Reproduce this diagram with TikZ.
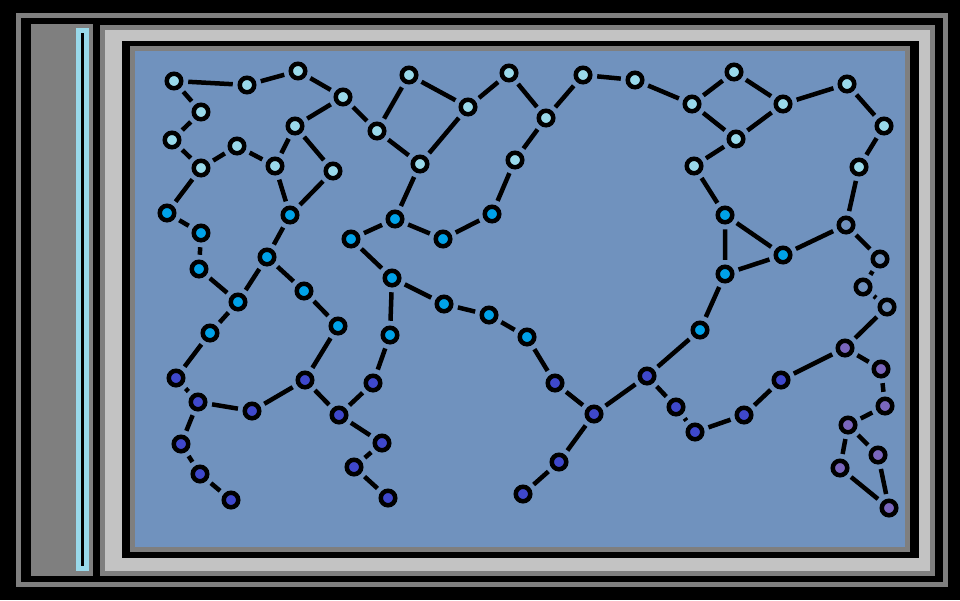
\documentclass[tikz,border=0pt]{standalone}
\usepackage{tikz}
\definecolor{framegray}{HTML}{7F7F7F}
\definecolor{framesilver}{HTML}{C3C3C3}
\definecolor{barblue}{HTML}{99D9EA}
\definecolor{boardblue}{HTML}{7092BE}
\definecolor{dotlight}{HTML}{99D9EA}
\definecolor{dotblue}{HTML}{00A2E8}
\definecolor{dotindigo}{HTML}{3F48CC}
\definecolor{dotpurple}{HTML}{7A66BD}
\tikzset{
  dot/.style={circle,draw=black,line width=4.5pt,minimum size=14.5pt,inner sep=0pt,outer sep=7pt},
  lightdot/.style={dot,fill=dotlight},
  bluedot/.style={dot,fill=dotblue},
  indigodot/.style={dot,fill=dotindigo},
  purpledot/.style={dot,fill=dotpurple},
  hollowdot/.style={dot,fill=boardblue},
  link/.style={line width=4.5pt,black}
}
\begin{document}
\begin{tikzpicture}[x=1pt,y=-1pt]
\useasboundingbox (0,0) rectangle (960,600);
\fill[black] (0,0) rectangle (960,600);
\draw[framegray,line width=5pt] (18.5,15.5) rectangle (945.5,584.5);

% left bar
\fill[framegray] (31,24) rectangle (93,576);
\fill[barblue] (76,28) rectangle (89,571);
\fill[black] (81,33) rectangle (84,566);

% board
\fill[framegray] (100,25) rectangle (935,576);
\fill[framesilver] (105,30) rectangle (930,571);
\fill[black] (122,41) rectangle (919,558);
\fill[framegray] (130,46) rectangle (910,552);
\fill[boardblue] (135,51) rectangle (905,547);

% top dots
\node[lightdot] (c1) at (174,81) {};
\node[lightdot] (c2) at (247,85) {};
\node[lightdot] (c3) at (298,71) {};
\node[lightdot] (c4) at (343,97) {};
\node[lightdot] (c5) at (201,112) {};
\node[lightdot] (c6) at (172,140) {};
\node[lightdot] (c7) at (201,168) {};
\node[lightdot] (c8) at (237,146) {};
\node[lightdot] (c9) at (275,166) {};
\node[lightdot] (c10) at (295,126) {};
\node[lightdot] (c11) at (333,171) {};
\node[lightdot] (c12) at (377,131) {};
\node[lightdot] (c13) at (409,75) {};
\node[lightdot] (c14) at (468,107) {};
\node[lightdot] (c15) at (420,164) {};
\node[lightdot] (c16) at (509,73) {};
\node[lightdot] (c17) at (546,118) {};
\node[lightdot] (c18) at (515,160) {};
\node[lightdot] (c19) at (583,75) {};
\node[lightdot] (c20) at (635,80) {};
\node[lightdot] (c21) at (692,104) {};
\node[lightdot] (c22) at (734,72) {};
\node[lightdot] (c23) at (783,104) {};
\node[lightdot] (c24) at (736,139) {};
\node[lightdot] (c25) at (694,166) {};
\node[lightdot] (c26) at (847,84) {};
\node[lightdot] (c27) at (884,126) {};
\node[lightdot] (c28) at (859,167) {};

% middle dots
\node[bluedot] (c29) at (167,213) {};
\node[bluedot] (c30) at (201,233) {};
\node[bluedot] (c31) at (199,269) {};
\node[bluedot] (c32) at (290,215) {};
\node[bluedot] (c33) at (267,257) {};
\node[bluedot] (c34) at (238,302) {};
\node[bluedot] (c35) at (304,291) {};
\node[bluedot] (c36) at (210,333) {};
\node[bluedot] (c37) at (338,326) {};
\node[bluedot] (c38) at (351,239) {};
\node[bluedot] (c39) at (395,219) {};
\node[bluedot] (c40) at (443,239) {};
\node[bluedot] (c41) at (492,214) {};
\node[bluedot] (c42) at (392,278) {};
\node[bluedot] (c43) at (444,304) {};
\node[bluedot] (c44) at (489,315) {};
\node[bluedot] (c45) at (390,335) {};
\node[bluedot] (c46) at (527,337) {};
\node[bluedot] (c47) at (725,215) {};
\node[bluedot] (c48) at (725,274) {};
\node[bluedot] (c49) at (783,255) {};
\node[hollowdot] (c50) at (846,225) {};
\node[hollowdot] (c51) at (880,259) {};
\node[hollowdot] (c52) at (863,287) {};
\node[hollowdot] (c53) at (887,307) {};
\node[bluedot] (c54) at (700,330) {};

% lower dots
\node[indigodot] (c55) at (176,378) {};
\node[indigodot] (c56) at (198,402) {};
\node[indigodot] (c57) at (252,411) {};
\node[indigodot] (c58) at (305,380) {};
\node[indigodot] (c59) at (373,383) {};
\node[indigodot] (c60) at (339,415) {};
\node[indigodot] (c61) at (382,443) {};
\node[indigodot] (c62) at (354,467) {};
\node[indigodot] (c63) at (388,498) {};
\node[indigodot] (c64) at (181,444) {};
\node[indigodot] (c65) at (200,474) {};
\node[indigodot] (c66) at (231,500) {};
\node[indigodot] (c67) at (555,383) {};
\node[indigodot] (c68) at (594,414) {};
\node[indigodot] (c69) at (559,462) {};
\node[indigodot] (c70) at (523,494) {};
\node[indigodot] (c71) at (647,376) {};
\node[indigodot] (c72) at (676,407) {};
\node[indigodot] (c73) at (695,432) {};
\node[indigodot] (c74) at (744,415) {};
\node[indigodot] (c75) at (781,380) {};

% corner dots
\node[purpledot] (c76) at (845,348) {};
\node[purpledot] (c77) at (881,369) {};
\node[purpledot] (c78) at (885,406) {};
\node[purpledot] (c79) at (848,425) {};
\node[purpledot] (c80) at (878,455) {};
\node[purpledot] (c81) at (840,468) {};
\node[purpledot] (c82) at (889,508) {};

% links
\draw[link] (c1) -- (c2) (c2) -- (c3) (c3) -- (c4) (c1) -- (c5) (c5) -- (c6)
  (c6) -- (c7) (c7) -- (c8) (c8) -- (c9) (c4) -- (c10) (c4) -- (c12)
  (c12) -- (c13) (c10) -- (c9) (c10) -- (c11) (c9) -- (c32) (c11) -- (c32)
  (c7) -- (c29) (c29) -- (c30) (c30) -- (c31) (c31) -- (c34) (c32) -- (c33)
  (c33) -- (c34) (c33) -- (c35) (c35) -- (c37) (c38) -- (c39) (c38) -- (c42)
  (c42) -- (c45) (c13) -- (c14) (c14) -- (c16) (c14) -- (c15) (c12) -- (c15)
  (c15) -- (c39) (c39) -- (c40) (c40) -- (c41) (c41) -- (c18) (c18) -- (c17)
  (c16) -- (c17) (c17) -- (c19) (c19) -- (c20) (c42) -- (c43) (c20) -- (c21);
\draw[link] (c21) -- (c22) (c22) -- (c23) (c21) -- (c24) (c24) -- (c23)
  (c24) -- (c25) (c25) -- (c47) (c23) -- (c26) (c26) -- (c27) (c27) -- (c28)
  (c28) -- (c50) (c47) -- (c48) (c47) -- (c49) (c48) -- (c49) (c49) -- (c50)
  (c50) -- (c51) (c51) -- (c52) (c52) -- (c53) (c48) -- (c54);
\draw[link] (c34) -- (c36) (c36) -- (c55) (c55) -- (c56) (c56) -- (c57)
  (c57) -- (c58) (c37) -- (c58) (c58) -- (c60) (c45) -- (c59) (c59) -- (c60)
  (c60) -- (c61) (c61) -- (c62) (c62) -- (c63) (c56) -- (c64) (c64) -- (c65)
  (c65) -- (c66) (c43) -- (c44) (c44) -- (c46) (c46) -- (c67) (c67) -- (c68)
  (c68) -- (c71) (c68) -- (c69) (c69) -- (c70) (c54) -- (c71) (c71) -- (c72)
  (c72) -- (c73) (c73) -- (c74) (c74) -- (c75) (c75) -- (c76) (c53) -- (c76)
  (c76) -- (c77) (c77) -- (c78) (c78) -- (c79) (c79) -- (c80) (c79) -- (c81)
  (c81) -- (c82) (c80) -- (c82);

\end{tikzpicture}
\end{document}
